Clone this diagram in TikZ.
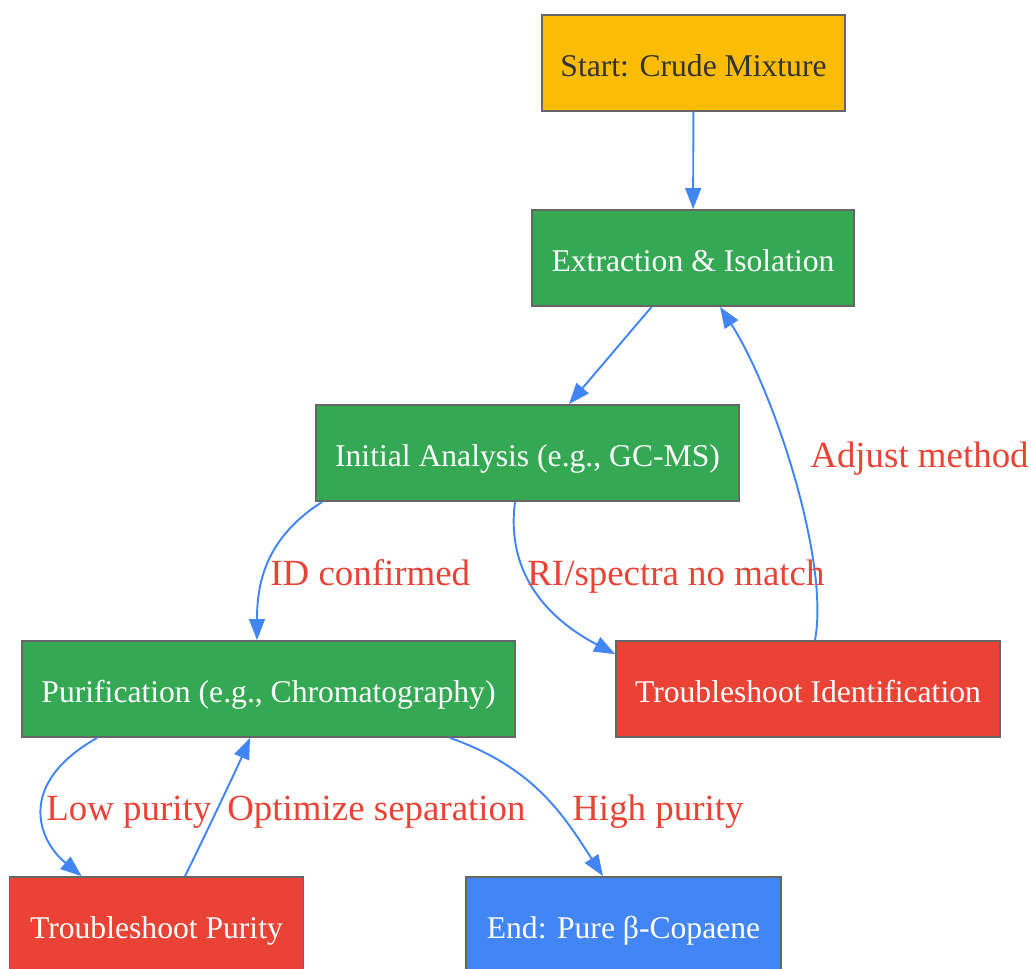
\documentclass[tikz,border=0pt]{standalone}
\usepackage{fontspec}
\setmainfont{Liberation Serif}
\usetikzlibrary{arrows.meta}
\definecolor{gyellow}{HTML}{FBBC05}
\definecolor{ggreen}{HTML}{34A853}
\definecolor{gred}{HTML}{EA4335}
\definecolor{gblue}{HTML}{4285F4}
\definecolor{boxgray}{HTML}{666666}
\definecolor{textdark}{HTML}{333333}
\begin{document}
\begin{tikzpicture}[x=0.02cm,y=-0.02cm,
		box/.style={draw=boxgray,line width=1pt,minimum height=1.92cm,inner sep=0pt,text height=16pt,text depth=1.2pt,font=\fontsize{18}{22}\selectfont,text=white},
		flow/.style={draw=gblue,line width=1.1pt,-{Triangle[length=12pt,width=9pt]}},
		lbl/.style={text=gred,anchor=west,inner sep=0pt,text height=14.3pt,text depth=0pt,font=\fontsize{21}{25}\selectfont}]
	\useasboundingbox (0,0) rectangle (1031,968);
	\node[box,fill=gyellow,text=textdark,minimum width=6.06cm] (start) at (693.5,63) {Start: Crude Mixture};
	\node[box,fill=ggreen,minimum width=6.44cm] (extr) at (693,258) {Extraction \& Isolation};
	\node[box,fill=ggreen,minimum width=8.46cm] (init) at (527.5,453) {Initial Analysis (e.g., GC-MS)};
	\node[box,fill=ggreen,minimum width=9.86cm] (purif) at (268.5,689) {Purification (e.g., Chromatography)};
	\node[box,fill=gred,minimum width=7.68cm] (tsid) at (808,689) {Troubleshoot Identification};
	\node[box,fill=gred,minimum width=5.88cm] (tspur) at (156.5,925) {Troubleshoot Purity};
	\node[box,fill=gblue,minimum width=6.3cm] (endn) at (623.5,925) {End: Pure β-Copaene};
	\draw[flow] (start) -- (extr);
	\draw[flow] (extr) -- (init);
	\draw[flow] ([xshift=0.14cm]init.south west) .. controls +(-58,37) and +(0,-55) .. ([xshift=-0.23cm]purif.north);
	\draw[flow] ([xshift=-0.25cm]init.south) .. controls +(-8,60) and +(-80,-42) .. ([yshift=-0.28cm]tsid.north west);
	\draw[flow] ([xshift=0.14cm]tsid.north) .. controls +(15,-81) and +(52,80) .. ([xshift=0.54cm]extr.south);
	\draw[flow] ([xshift=1.52cm]purif.south west) .. controls +(-80,45) and +(-45,-37) .. ([xshift=1.46cm]tspur.north west);
	\draw[flow] ([xshift=0.57cm]tspur.north) .. controls +(15,-30) and +(-12,28) .. ([xshift=-0.37cm]purif.south);
	\draw[flow] ([xshift=3.63cm]purif.south) .. controls +(85,30) and +(-39,-60) .. ([xshift=-0.41cm]endn.north);
	\node[lbl] (lid) at (270,573) {ID confirmed};
	\node[lbl] (lri) at (527,573) {RI/spectra no match};
	\node[lbl] (ladj) at (810,455) {Adjust method};
	\node[lbl] (llow) at (46,808) {Low purity};
	\node[lbl] (lopt) at (227,808) {Optimize separation};
	\node[lbl] (lhigh) at (572,808) {High purity};
\end{tikzpicture}
\end{document}
